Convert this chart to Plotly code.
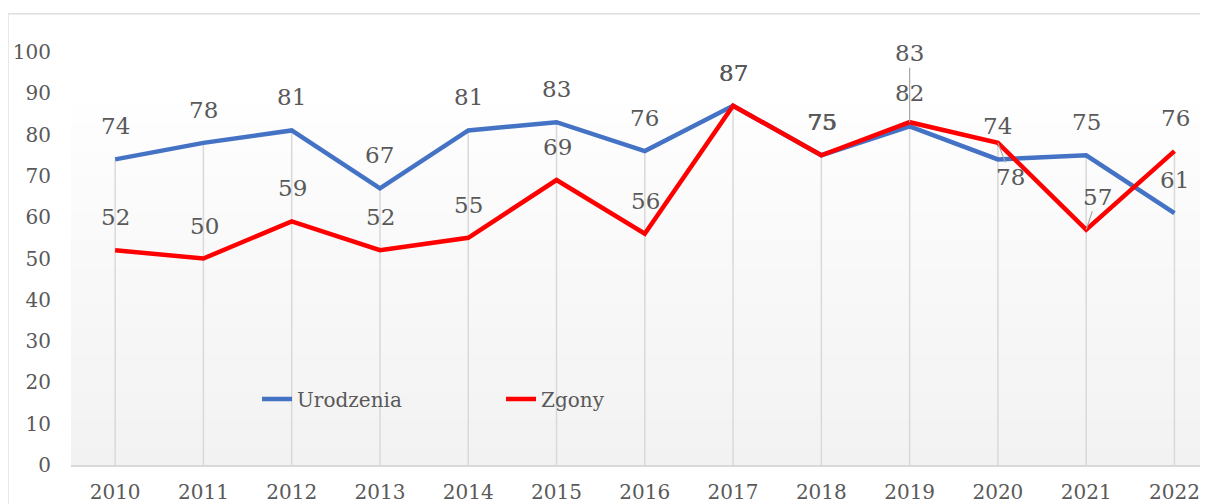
import plotly.graph_objects as go

years = ["2010", "2011", "2012", "2013", "2014", "2015", "2016",
         "2017", "2018", "2019", "2020", "2021", "2022"]
urodzenia = [74, 78, 81, 67, 81, 83, 76, 87, 75, 82, 74, 75, 61]
zgony = [52, 50, 59, 52, 55, 69, 56, 87, 75, 83, 78, 57, 76]

BLUE = "#4472C4"
RED = "#FF0000"
GRID = "#D9D9D9"
TXT = "#595959"
FONT = "DejaVu Serif"

# label offsets (px): default is centred, 33 px above the point
label_offsets = {
    ("Zgony", "2019"): (0, -69),
    ("Zgony", "2020"): (13, 34),
    ("Zgony", "2021"): (11, -33),
}

fig = go.Figure()

dx, dy = [], []
for i, yr in enumerate(years):
    dx += [yr, yr, None]
    dy += [0, max(urodzenia[i], zgony[i]), None]
fig.add_trace(go.Scatter(x=dx, y=dy, mode="lines",
                         line=dict(color=GRID, width=1.5),
                         hoverinfo="skip", showlegend=False))

fig.add_trace(go.Scatter(x=years, y=urodzenia, mode="lines", name="Urodzenia",
                         line=dict(color=BLUE, width=4.5)))
fig.add_trace(go.Scatter(x=years, y=zgony, mode="lines", name="Zgony",
                         line=dict(color=RED, width=4.5)))

annotations = []
for s, (name, vals) in enumerate((("Urodzenia", urodzenia), ("Zgony", zgony))):
    for i, (yr, v) in enumerate(zip(years, vals)):
        off = label_offsets.get((name, yr))
        if off:
            ax, ay = off
            annotations.append(dict(
                x=i, y=v, xref="x", yref="y", text=str(v),
                showarrow=True, arrowhead=0, arrowwidth=1.2,
                arrowcolor="#A6A6A6", ax=ax, ay=ay, standoff=0,
                font=dict(family=FONT, size=23, color=TXT)))
        else:
            annotations.append(dict(
                x=i, y=v, xref="x", yref="y", text=str(v),
                showarrow=False, yshift=33, xshift=0.7 * s,
                font=dict(family=FONT, size=23, color=TXT)))

shapes = []
n = 40
top = 0.871
for k in range(n):
    y0 = top * k / n
    y1 = top * (k + 1) / n
    c = round(242 + (254 - 242) * (k + 0.5) / n)
    shapes.append(dict(type="rect", xref="paper", yref="paper",
                       x0=0, x1=1, y0=y0, y1=y1 + 0.002,
                       fillcolor=f"rgb({c},{c},{c})", line=dict(width=0),
                       layer="below"))
shapes.append(dict(type="rect", xref="paper", yref="paper",
                   x0=-0.0554, x1=1.02, y0=-0.2, y1=1.0922,
                   line=dict(color=GRID, width=1.2), fillcolor="rgba(0,0,0,0)",
                   layer="below"))

fig.update_layout(
    width=1200, height=496,
    margin=dict(l=63, r=0, t=44, b=32),
    paper_bgcolor="white", plot_bgcolor="white",
    font=dict(family=FONT, color=TXT),
    shapes=shapes,
    annotations=annotations,
    legend=dict(orientation="h", x=0.1636, y=0.16, xanchor="left",
                yanchor="middle", bgcolor="rgba(0,0,0,0)",
                font=dict(family=FONT, size=20, color=TXT),
                entrywidth=199, entrywidthmode="pixels",
                itemclick=False),
    xaxis=dict(type="category", range=[-0.5, 12.38], showgrid=False,
               showline=True, linecolor=GRID, linewidth=1.5, ticks="",
               tickfont=dict(family=FONT, size=20, color=TXT),
               ticklabelstandoff=8, zeroline=False),
    yaxis=dict(range=[0, 100], tickvals=list(range(0, 101, 10)),
               showgrid=False, zeroline=False, showline=False, ticks="",
               tickfont=dict(family=FONT, size=20, color=TXT),
               ticklabelstandoff=19),
)

fig.write_html("out.html")
